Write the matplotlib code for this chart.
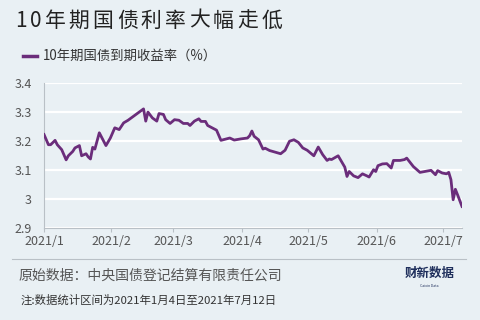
import matplotlib.pyplot as plt
import pandas as pd

plt.rcParams['font.family'] = ['Noto Sans CJK SC', 'DejaVu Sans']

# 10年期国债到期收益率（%）
daten = ["2021-01-04", "2021-01-06", "2021-01-07", "2021-01-09", "2021-01-10", "2021-01-12",
         "2021-01-14", "2021-01-15", "2021-01-17", "2021-01-18", "2021-01-20", "2021-01-21",
         "2021-01-23", "2021-01-24", "2021-01-25", "2021-01-26", "2021-01-27", "2021-01-29",
         "2021-02-01", "2021-02-03", "2021-02-05", "2021-02-07", "2021-02-09", "2021-02-11",
         "2021-02-18", "2021-02-19", "2021-02-20", "2021-02-22", "2021-02-24", "2021-02-25",
         "2021-02-27", "2021-02-28", "2021-03-02", "2021-03-04", "2021-03-06", "2021-03-08",
         "2021-03-10", "2021-03-11", "2021-03-13", "2021-03-15", "2021-03-16", "2021-03-18",
         "2021-03-19", "2021-03-22", "2021-03-23", "2021-03-25", "2021-03-28", "2021-03-29",
         "2021-03-31", "2021-04-03", "2021-04-06", "2021-04-07", "2021-04-08", "2021-04-09",
         "2021-04-11", "2021-04-13", "2021-04-14", "2021-04-16", "2021-04-21", "2021-04-23",
         "2021-04-25", "2021-04-27", "2021-04-29", "2021-05-01", "2021-05-03", "2021-05-06",
         "2021-05-08", "2021-05-10", "2021-05-12", "2021-05-13", "2021-05-14", "2021-05-17",
         "2021-05-20", "2021-05-21", "2021-05-22", "2021-05-24", "2021-05-26", "2021-05-28",
         "2021-05-30", "2021-05-31", "2021-06-02", "2021-06-03", "2021-06-04", "2021-06-06",
         "2021-06-08", "2021-06-10", "2021-06-11", "2021-06-14", "2021-06-16", "2021-06-17",
         "2021-06-20", "2021-06-23", "2021-06-28", "2021-06-30", "2021-07-01", "2021-07-03",
         "2021-07-05", "2021-07-06", "2021-07-07", "2021-07-08", "2021-07-09", "2021-07-10",
         "2021-07-12"]
rendite = [3.222, 3.187, 3.187, 3.202, 3.187, 3.170,
           3.135, 3.149, 3.164, 3.176, 3.184, 3.149,
           3.156, 3.145, 3.138, 3.178, 3.172, 3.228,
           3.184, 3.210, 3.245, 3.239, 3.262, 3.271,
           3.310, 3.268, 3.299, 3.279, 3.268, 3.294,
           3.291, 3.273, 3.260, 3.273, 3.271, 3.260,
           3.260, 3.253, 3.268, 3.276, 3.267, 3.267,
           3.253, 3.241, 3.237, 3.202, 3.208, 3.210,
           3.203, 3.207, 3.210, 3.218, 3.234, 3.216,
           3.204, 3.172, 3.175, 3.167, 3.156, 3.168,
           3.199, 3.204, 3.195, 3.176, 3.168, 3.149,
           3.179, 3.153, 3.133, 3.138, 3.136, 3.149,
           3.110, 3.078, 3.095, 3.080, 3.074, 3.087,
           3.080, 3.076, 3.101, 3.095, 3.115, 3.121,
           3.122, 3.107, 3.133, 3.133, 3.136, 3.141,
           3.112, 3.092, 3.099, 3.084, 3.098, 3.090,
           3.087, 3.092, 3.067, 2.998, 3.034, 3.015,
           2.975]

monate = ["2021/1", "2021/2", "2021/3", "2021/4", "2021/5", "2021/6", "2021/7"]
yticks = [2.9, 3.0, 3.1, 3.2, 3.3, 3.4]
ytick_labels = ["2.9", "3", "3.1", "3.2", "3.3", "3.4"]

titel = "10年期国债利率大幅走低"

hintergrund = "#e9f0f4"
lila = "#6b2d7b"

x = pd.to_datetime(daten)

fig = plt.figure(figsize=(4.8, 3.2), dpi=100, facecolor=hintergrund)
ax = fig.add_axes([0.0917, 0.2866, 0.8708, 0.455])
ax.set_facecolor(hintergrund)

ax.plot(x, rendite, color=lila, lw=2.0, solid_joinstyle="round", zorder=3)

ax.set_ylim(2.9, 3.4)
ax.set_xlim(x[0], x[-1])
ax.set_yticks(yticks)
ax.set_yticklabels(ytick_labels)
ax.grid(axis="y", color="white", lw=1.6, zorder=0)

# Monatsmarken wie im Original leicht nach rechts versetzt
tick_pos = [x[0]] + [pd.Timestamp(2021, m, 1) + pd.Timedelta(days=2.5) for m in range(2, 8)]
ax.set_xticks(tick_pos)
ax.set_xticklabels(monate)

for s in ["top", "right"]:
    ax.spines[s].set_visible(False)
for s in ["left", "bottom"]:
    ax.spines[s].set_color("#b9c0c6")
    ax.spines[s].set_linewidth(0.8)
ax.tick_params(axis="y", length=0, pad=9, labelsize=9, labelcolor="#555555")
ax.tick_params(axis="x", length=3, color="#b9c0c6", pad=2, labelsize=9, labelcolor="#555555")

# Titel mit Zeichenabstand, Zeichen für Zeichen
renderer = fig.canvas.get_renderer()
pos_x = 15
for zeichen in titel:
    t = fig.text(pos_x / 480, 0.935, zeichen, fontsize=15, color="#222222", va="center")
    pos_x += t.get_window_extent(renderer).width + 3.2

fig.lines.append(plt.Line2D([0.048, 0.077], [0.825, 0.825], transform=fig.transFigure,
                            color=lila, lw=2.5))
fig.text(0.09, 0.825, "10年期国债到期收益率（%）", fontsize=9.6, color="#333333", va="center")

fig.lines.append(plt.Line2D([0.025, 0.97], [0.19, 0.19], transform=fig.transFigure,
                            color="#b9c0c6", lw=0.8))
fig.text(0.038, 0.14, "原始数据：中央国债登记结算有限责任公司", fontsize=10, color="#555555", va="center")
fig.text(0.042, 0.062, "注:数据统计区间为2021年1月4日至2021年7月12日", fontsize=8.2, color="#333333", va="center")
fig.text(0.895, 0.145, "财新数据", fontsize=9, color="#1f2f5c", fontweight="bold", ha="center", va="center")
fig.text(0.895, 0.107, "Caixin Data", fontsize=2.5, color="#1f2f5c", ha="center", va="center")

fig.savefig("out.png", dpi=100, facecolor=hintergrund)
